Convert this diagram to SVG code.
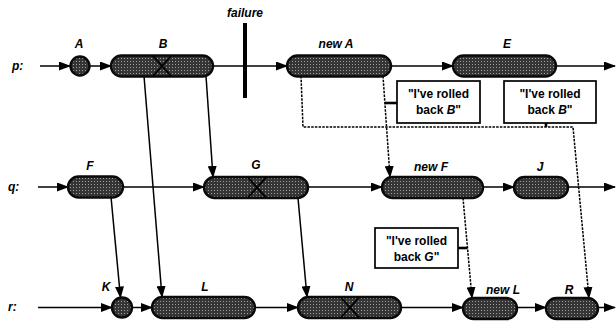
<svg xmlns="http://www.w3.org/2000/svg" width="616" height="323" viewBox="0 0 616 323">
  <defs>
    <!-- stippled grey fill used for every process interval -->
    <pattern id="stipple" width="3" height="3" patternUnits="userSpaceOnUse">
      <rect width="3" height="3" fill="#353535"/>
      <rect x="1" y="1" width="1" height="1" fill="#a0a0a0"/>
    </pattern>
    <marker id="arrow" markerUnits="userSpaceOnUse" markerWidth="12" markerHeight="9" refX="11" refY="4.5" orient="auto">
      <path d="M0,0 L12,4.5 L0,9 z" fill="#000"/>
    </marker>
    <style>
      .pill { fill: url(#stipple); stroke: #0a0a0a; stroke-width: 2.4; }
      .dot { fill: url(#stipple); stroke: #0a0a0a; stroke-width: 2.4; }
      .line { stroke: #000; stroke-width: 1.5; fill: none; }
      .dash { stroke: #000; stroke-width: 1.5; fill: none; stroke-dasharray: 2.5 1.2; }
      .stub { stroke: #000; stroke-width: 2.6; fill: none; }
      .cross { stroke: #000; stroke-width: 1.8; fill: none; }
      .lbl { font-family: "Liberation Sans", Arial, sans-serif; font-size: 12px; font-style: italic; font-weight: bold; fill: #000; text-anchor: middle; }
      .proc { font-family: "Liberation Sans", Arial, sans-serif; font-size: 12px; font-style: italic; font-weight: bold; fill: #000; }
      .box { fill: #fff; stroke: #000; stroke-width: 1.7; }
      .msg { font-family: "Liberation Sans", Arial, sans-serif; font-size: 12px; font-weight: bold; fill: #000; text-anchor: middle; }
    </style>
  </defs>

  <!-- process names -->
  <text class="proc" x="12" y="70">p:</text>
  <text class="proc" x="8" y="191">q:</text>
  <text class="proc" x="8" y="311">r:</text>

  <!-- failure marker on p -->
  <g id="failure">
    <rect x="243" y="23" width="4" height="75" fill="#000"/>
    <text class="lbl" x="245" y="17" font-size="11">failure</text>
  </g>

  <!-- connectors -->
  <g id="connectors">
    <!-- timelines -->
    <line class="line" x1="40" y1="66" x2="70" y2="66" marker-end="url(#arrow)"/>
    <line class="line" x1="90" y1="66" x2="111" y2="66" marker-end="url(#arrow)"/>
    <line class="line" x1="213" y1="66" x2="287" y2="66" marker-end="url(#arrow)"/>
    <line class="line" x1="391" y1="66" x2="453" y2="66" marker-end="url(#arrow)"/>
    <line class="line" x1="556" y1="66" x2="615" y2="66" marker-end="url(#arrow)"/>

    <line class="line" x1="38" y1="187" x2="68" y2="187" marker-end="url(#arrow)"/>
    <line class="line" x1="123" y1="187" x2="204" y2="187" marker-end="url(#arrow)"/>
    <line class="line" x1="308" y1="187" x2="382" y2="187" marker-end="url(#arrow)"/>
    <line class="line" x1="483" y1="187" x2="514" y2="187" marker-end="url(#arrow)"/>
    <line class="line" x1="568" y1="187" x2="615" y2="187" marker-end="url(#arrow)"/>

    <line class="line" x1="38" y1="307.5" x2="112" y2="307.5" marker-end="url(#arrow)"/>
    <line class="line" x1="132" y1="307.5" x2="152" y2="307.5" marker-end="url(#arrow)"/>
    <line class="line" x1="255" y1="307.5" x2="298" y2="307.5" marker-end="url(#arrow)"/>
    <line class="line" x1="401" y1="307.5" x2="463" y2="307.5" marker-end="url(#arrow)"/>
    <line class="line" x1="517" y1="307.5" x2="546" y2="307.5" marker-end="url(#arrow)"/>
    <line class="line" x1="598" y1="307.5" x2="615" y2="307.5" marker-end="url(#arrow)"/>

    <!-- messages -->
    <line class="line" x1="144" y1="76" x2="162" y2="297" marker-end="url(#arrow)"/>
    <line class="line" x1="206" y1="76" x2="213" y2="177" marker-end="url(#arrow)"/>
    <line class="line" x1="111" y1="197" x2="120.5" y2="297.5" marker-end="url(#arrow)"/>
    <line class="line" x1="298" y1="198" x2="307" y2="297" marker-end="url(#arrow)"/>

    <!-- rollback notifications -->
    <line class="dash" x1="383" y1="76" x2="390" y2="177" marker-end="url(#arrow)"/>
    <polyline class="dash" points="301,76 303,127 573,127 589,298" marker-end="url(#arrow)"/>
    <line class="dash" x1="463" y1="198" x2="472" y2="298" marker-end="url(#arrow)"/>

    <line class="stub" x1="384.8" y1="103" x2="397" y2="103"/>
    <line class="stub" x1="546" y1="123" x2="546" y2="127"/>
    <line class="stub" x1="458" y1="248" x2="467.5" y2="248"/>
  </g>

  <!-- process p -->
  <g id="A">
    <circle class="dot" cx="80" cy="66" r="9.5"/>
    <text class="lbl" x="79" y="48">A</text>
  </g>
  <g id="B">
    <rect class="pill" x="111" y="55.5" width="102" height="21" rx="10.5"/>
    <path class="cross" d="M153,56 L171,76 M171,56 L153,76"/>
    <text class="lbl" x="163" y="48">B</text>
  </g>
  <g id="newA">
    <rect class="pill" x="287" y="55.5" width="104" height="21" rx="10.5"/>
    <text class="lbl" x="336" y="48">new A</text>
  </g>
  <g id="E">
    <rect class="pill" x="453" y="55.5" width="103" height="21" rx="10.5"/>
    <text class="lbl" x="507" y="48">E</text>
  </g>

  <!-- process q -->
  <g id="F">
    <rect class="pill" x="68" y="176.5" width="55" height="21" rx="10.5"/>
    <text class="lbl" x="90" y="170">F</text>
  </g>
  <g id="G">
    <rect class="pill" x="204" y="177" width="104" height="21" rx="10.5"/>
    <path class="cross" d="M248,177.5 L266,197.5 M266,177.5 L248,197.5"/>
    <text class="lbl" x="256" y="169">G</text>
  </g>
  <g id="newF">
    <rect class="pill" x="382" y="177" width="101" height="21" rx="10.5"/>
    <text class="lbl" x="431" y="171">new F</text>
  </g>
  <g id="J">
    <rect class="pill" x="514" y="177" width="54" height="21" rx="10.5"/>
    <text class="lbl" x="540" y="171">J</text>
  </g>

  <!-- process r -->
  <g id="K">
    <circle class="dot" cx="122" cy="307.5" r="10"/>
    <text class="lbl" x="106" y="291">K</text>
  </g>
  <g id="L">
    <rect class="pill" x="152" y="297" width="103" height="21" rx="10.5"/>
    <text class="lbl" x="205" y="291">L</text>
  </g>
  <g id="N">
    <rect class="pill" x="298" y="297" width="103" height="21" rx="10.5"/>
    <path class="cross" d="M341,297.5 L359,317.5 M359,297.5 L341,317.5"/>
    <text class="lbl" x="349" y="291">N</text>
  </g>
  <g id="newL">
    <rect class="pill" x="463" y="298" width="54" height="21" rx="10.5"/>
    <text class="lbl" x="503" y="294">new L</text>
  </g>
  <g id="R">
    <rect class="pill" x="546" y="298" width="52" height="21" rx="10.5"/>
    <text class="lbl" x="569" y="294">R</text>
  </g>

  <!-- rollback messages -->
  <g id="msg1">
    <rect class="box" x="397" y="81" width="83" height="42"/>
    <text class="msg" x="438.5" y="98">"I've rolled</text>
    <text class="msg" x="438.5" y="114">back <tspan font-style="italic">B</tspan>"</text>
  </g>
  <g id="msg2">
    <rect class="box" x="504" y="81" width="92" height="42"/>
    <text class="msg" x="550" y="98">"I've rolled</text>
    <text class="msg" x="550" y="114">back <tspan font-style="italic">B</tspan>"</text>
  </g>
  <g id="msg3">
    <rect class="box" x="375" y="228" width="83" height="40"/>
    <text class="msg" x="416.5" y="245">"I've rolled</text>
    <text class="msg" x="416.5" y="261">back <tspan font-style="italic">G</tspan>"</text>
  </g>
</svg>
